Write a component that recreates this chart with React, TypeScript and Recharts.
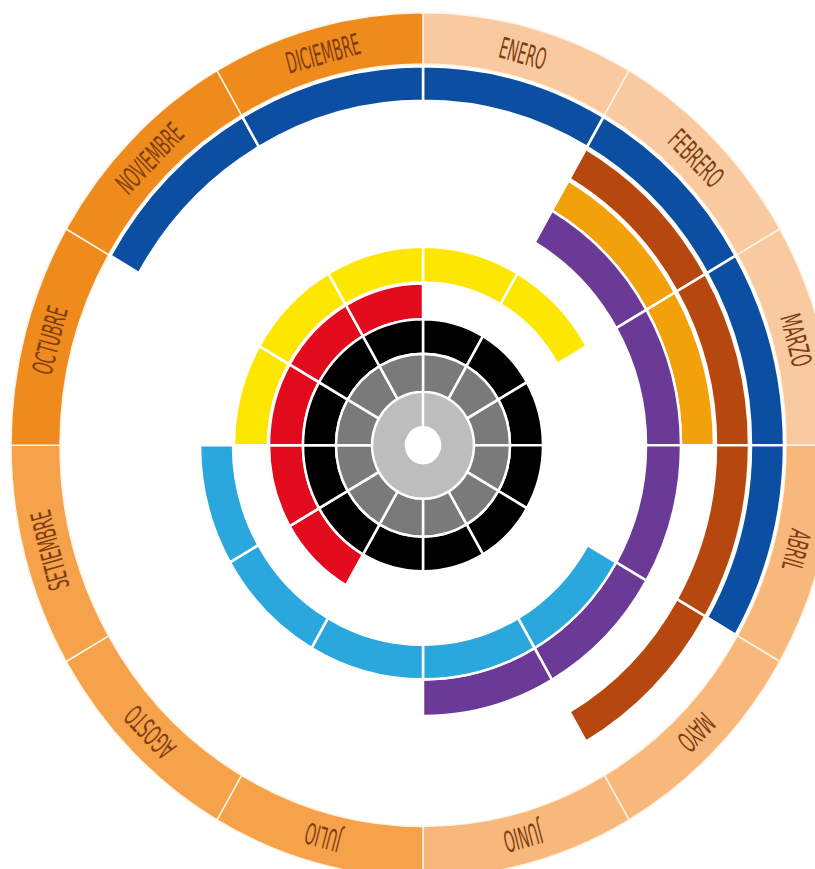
import React from 'react';
import { PieChart, Pie, Cell } from 'recharts';

// ---- Data ----
const months = ['ENERO', 'FEBRERO', 'MARZO', 'ABRIL', 'MAYO', 'JUNIO', 'JULIO', 'AGOSTO', 'SETIEMBRE', 'OCTUBRE', 'NOVIEMBRE', 'DICIEMBRE'];

// 1 = month covered by the arc, 0 = not covered
const serieAzul = [1, 1, 1, 1, 0, 0, 0, 0, 0, 0, 1, 1];
const serieMarron = [0, 1, 1, 1, 1, 0, 0, 0, 0, 0, 0, 0];
const serieAmbar = [0, 1, 1, 0, 0, 0, 0, 0, 0, 0, 0, 0];
const serieMorado = [0, 1, 1, 1, 1, 1, 0, 0, 0, 0, 0, 0];
const serieCeleste = [0, 0, 0, 0, 1, 1, 1, 1, 1, 0, 0, 0];
const serieAmarillo = [1, 1, 0, 0, 0, 0, 0, 0, 0, 1, 1, 1];
const serieRojo = [0, 0, 0, 0, 0, 0, 0, 1, 1, 1, 1, 1];
const serieNegro = [1, 1, 1, 1, 1, 1, 1, 1, 1, 1, 1, 1];
const serieGris = [1, 1, 1, 1, 1, 1, 1, 1, 1, 1, 1, 1];
const serieCentro = [1];

// ---- Styles ----
const quarterColors = ['#F9CAA0', '#F9B87B', '#F5A24B', '#EF8A1D'];
const CX = 418;
const CY = 440;

const rings = [
  { name: 'azul', serie: serieAzul, color: '#0B4EA2', inner: 328, outer: 361 },
  { name: 'marron', serie: serieMarron, color: '#B5470F', inner: 293, outer: 326 },
  { name: 'ambar', serie: serieAmbar, color: '#F2A10A', inner: 258, outer: 291 },
  { name: 'morado', serie: serieMorado, color: '#6A3A96', inner: 223, outer: 258 },
  { name: 'celeste', serie: serieCeleste, color: '#2AA7DD', inner: 190, outer: 223 },
  { name: 'amarillo', serie: serieAmarillo, color: '#FDE600', inner: 155, outer: 189 },
  { name: 'rojo', serie: serieRojo, color: '#E20A1D', inner: 120, outer: 154 },
  { name: 'negro', serie: serieNegro, color: '#000000', inner: 87, outer: 120 },
  { name: 'gris', serie: serieGris, color: '#7A7A7A', inner: 50, outer: 87 },
];

const monthData = months.map((m) => ({ mes: m, valor: 1 }));

const renderMonthLabel = (props: any) => {
  const { cx, cy, midAngle, innerRadius, outerRadius, index } = props;
  const r = (innerRadius + outerRadius) / 2 - 1;
  const rad = (-midAngle * Math.PI) / 180;
  const x = cx + r * Math.cos(rad);
  const y = cy + r * Math.sin(rad);
  const rot = 90 - midAngle;
  return (
    <text
      key={`lbl-${index}`}
      x={0}
      y={0}
      dy="0.36em"
      transform={`translate(${x},${y}) rotate(${rot}) scale(0.54,1)`}
      textAnchor="middle"
      fill="#7E3D12"
      fontSize={28}
      fontFamily="'Liberation Sans Narrow', 'DejaVu Sans Condensed', sans-serif"
    >
      {months[index]}
    </text>
  );
};

export default function App() {
  return (
    <div
      style={{
        position: 'absolute',
        left: 0,
        top: 0,
        width: 815,
        height: 869,
        overflow: 'hidden',
        background: '#ffffff',
      }}
    >
      <div style={{ width: 836, height: 880, transform: 'scaleY(1.05)', transformOrigin: `${CX}px ${CY}px` }}>
        <PieChart width={836} height={880}>
          <Pie
            data={monthData}
            dataKey="valor"
            nameKey="mes"
            cx={CX}
            cy={CY}
            startAngle={90}
            endAngle={-270}
            innerRadius={363}
            outerRadius={412}
            stroke="#FFF3E6"
            strokeWidth={1.5}
            isAnimationActive={false}
            label={renderMonthLabel}
            labelLine={false}
          >
            {monthData.map((d, i) => (
              <Cell key={`m-${i}`} fill={quarterColors[Math.floor(i / 3)]} />
            ))}
          </Pie>
          {rings.map((ring) => (
            <Pie
              key={ring.name}
              data={monthData.map((d, i) => ({ ...d, activo: ring.serie[i] }))}
              dataKey="valor"
              nameKey="mes"
              cx={CX}
              cy={CY}
              startAngle={90}
              endAngle={-270}
              innerRadius={ring.inner}
              outerRadius={ring.outer}
              isAnimationActive={false}
            >
              {ring.serie.map((v, i) => (
                <Cell
                  key={`${ring.name}-${i}`}
                  fill={v ? ring.color : 'none'}
                  stroke={v ? '#ffffff' : 'none'}
                  strokeWidth={2.5}
                />
              ))}
            </Pie>
          ))}
          <Pie
            data={serieCentro.map((v) => ({ valor: v }))}
            dataKey="valor"
            cx={CX}
            cy={CY}
            startAngle={90}
            endAngle={-270}
            innerRadius={17}
            outerRadius={51}
            isAnimationActive={false}
          >
            <Cell fill="#BDBDBD" stroke="#ffffff" strokeWidth={2.5} />
          </Pie>
        </PieChart>
      </div>
    </div>
  );
}
